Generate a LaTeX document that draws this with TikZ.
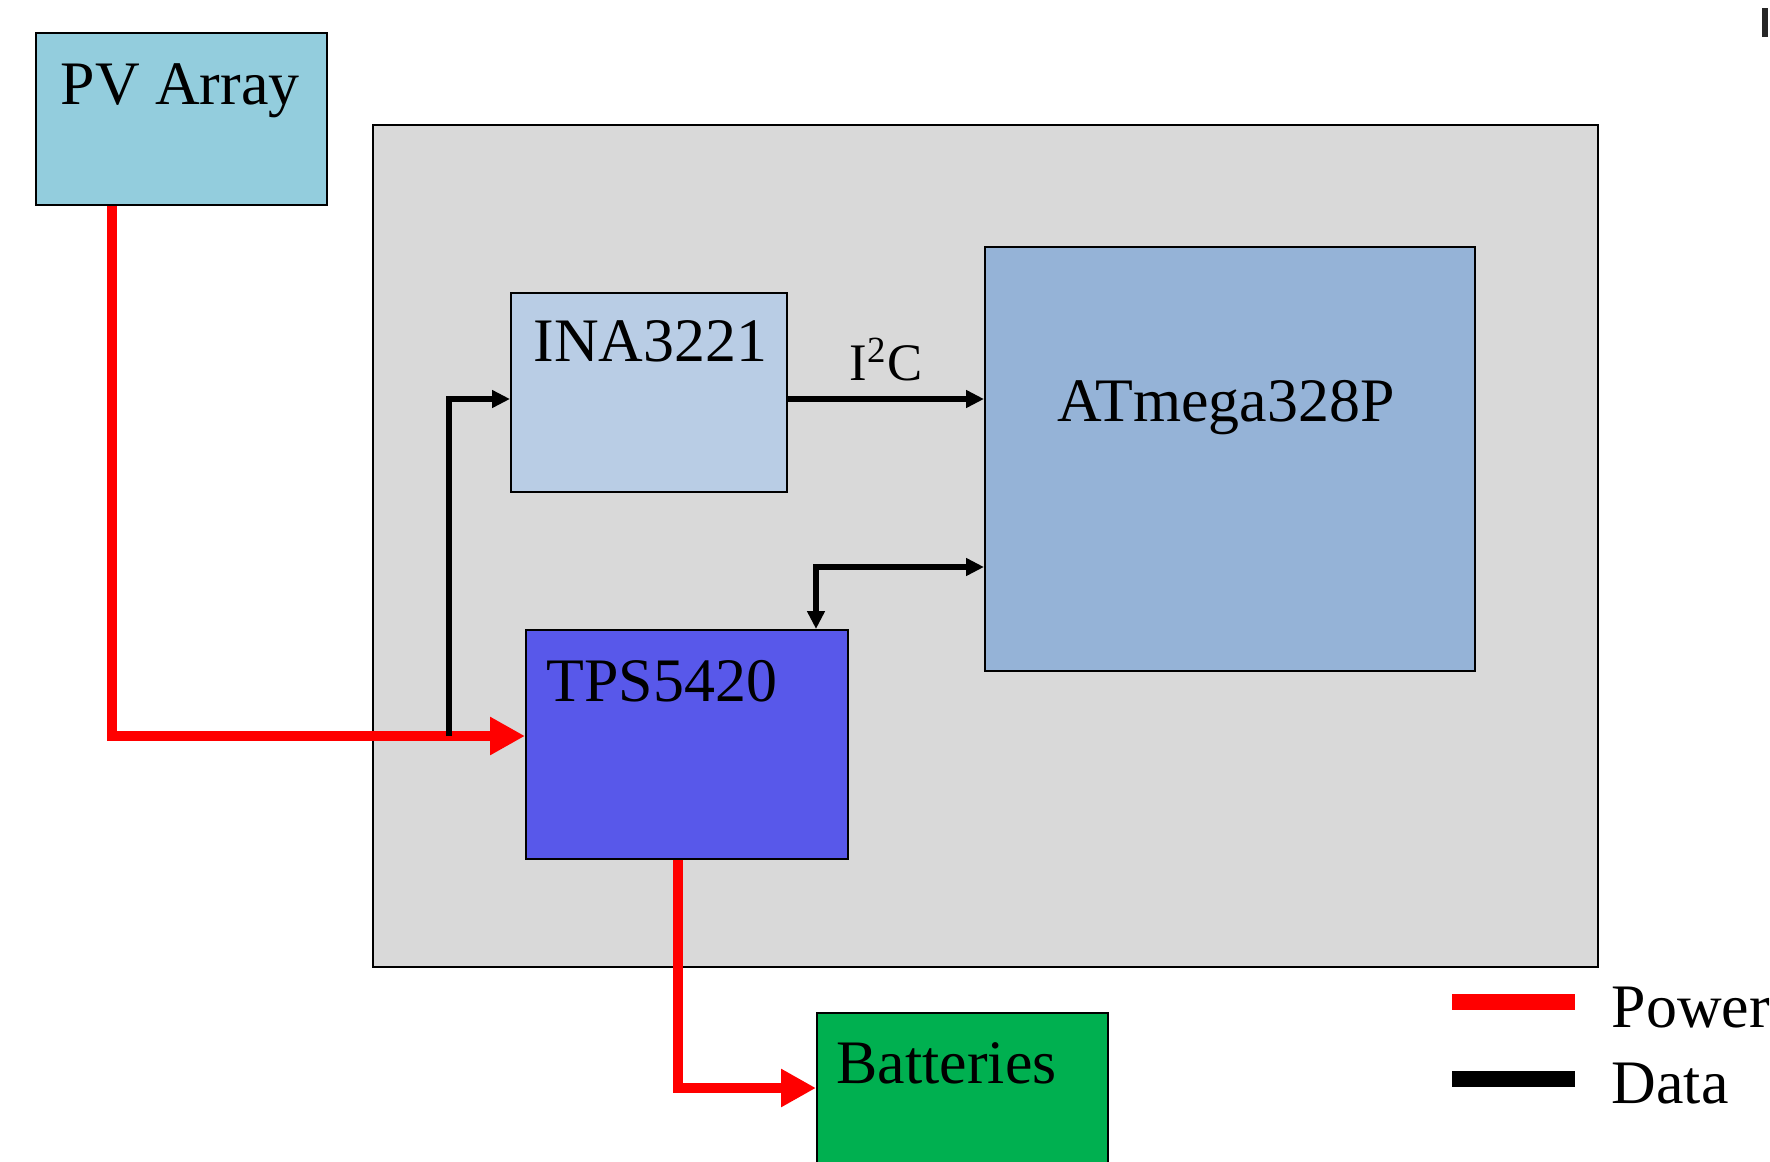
\documentclass[tikz,border=0pt]{standalone}
\usepackage{fontspec}
\setmainfont{Liberation Serif}
\usepackage{color}
\usetikzlibrary{arrows.meta, positioning}

\definecolor{pvbleu}{RGB}{147,205,221}
\definecolor{fondgris}{RGB}{217,217,217}
\definecolor{inableu}{RGB}{185,205,229}
\definecolor{atmbleu}{RGB}{149,179,215}
\definecolor{tpsbleu}{RGB}{88,88,234}
\definecolor{batvert}{RGB}{0,176,80}

\begin{document}
\begin{tikzpicture}[
        x=0.1mm, y=-0.1mm,
        bloc/.style={draw, line width=0.6pt, anchor=north west, inner sep=0pt},
        titre/.style={anchor=base west, inner sep=0pt, font=\fontsize{17.6}{21}\selectfont},
        puissance/.style={red, line width=3.1pt, -{Triangle[length=3.5mm, width=3.6mm]}},
        donnees/.style={black, line width=1.6pt, -{Triangle[length=1.8mm, width=1.7mm]}}
    ]
    \useasboundingbox (0,0) rectangle (1770,1162);

    % Carte (fond gris)
    \node[bloc, fill=fondgris, minimum width=122.5mm, minimum height=84.2mm] (carte) at (372,124) {};

    % Blocs
    \node[bloc, fill=pvbleu, minimum width=29.1mm, minimum height=17.2mm] (pv) at (35,32) {};
    \node[bloc, fill=inableu, minimum width=27.6mm, minimum height=19.9mm] (ina) at (510,292) {};
    \node[bloc, fill=atmbleu, minimum width=49.0mm, minimum height=42.4mm] (atm) at (984,246) {};
    \node[bloc, fill=tpsbleu, minimum width=32.2mm, minimum height=22.9mm] (tps) at (525,629) {};
    \node[bloc, fill=batvert, minimum width=29.1mm, minimum height=17mm] (bat) at (816,1012) {};

    % Textes des blocs
    \node[titre] (tpv) at (60,104) {PV Array};
    \node[titre] (tina) at (533,361) {INA3221};
    \node[titre] (tatm) at (1057,421) {ATmega328P};
    \node[titre] (ttps) at (546,701) {TPS5420};
    \node[titre] (tbat) at (836,1083) {Batteries};

    % Liaisons de puissance
    \coordinate (coude1) at (112,736);
    \coordinate (coude3) at (678,1088);
    \draw[puissance] (pv.south -| coude1) -- (coude1) -- (tps.west |- coude1);
    \draw[puissance] (tps.south -| coude3) -- (coude3) -- (bat.west |- coude3);

    % Liaisons de donnees
    \coordinate (prise) at (449,736);
    \coordinate (ligne) at (449,399);
    \coordinate (coude2) at (816,567);
    \draw[donnees] (prise) -- (ligne) -- (ina.west |- ligne);
    \draw[donnees] (ina.east |- ligne) -- (atm.west |- ligne)
        node[midway, above=1.5mm, inner sep=0pt, font=\fontsize{15}{18}\selectfont] (i2c) {I\textsuperscript{2}C};
    \draw[donnees, {Triangle[length=1.8mm, width=1.7mm]}-{Triangle[length=1.8mm, width=1.7mm]}]
        (tps.north -| coude2) -- (coude2) -- (atm.west |- coude2);

    % Legende
    \draw[red, line width=4.5pt] (1452,1002) -- (1575,1002);
    \draw[black, line width=4.5pt] (1452,1079) -- (1575,1079);
    \node[titre] (lpuis) at (1611,1027) {Power};
    \node[titre] (ldon) at (1611,1103) {Data};

    % Trait coupe en haut a droite
    \fill[black!85] (1762,8) rectangle (1768,37);
\end{tikzpicture}
\end{document}
